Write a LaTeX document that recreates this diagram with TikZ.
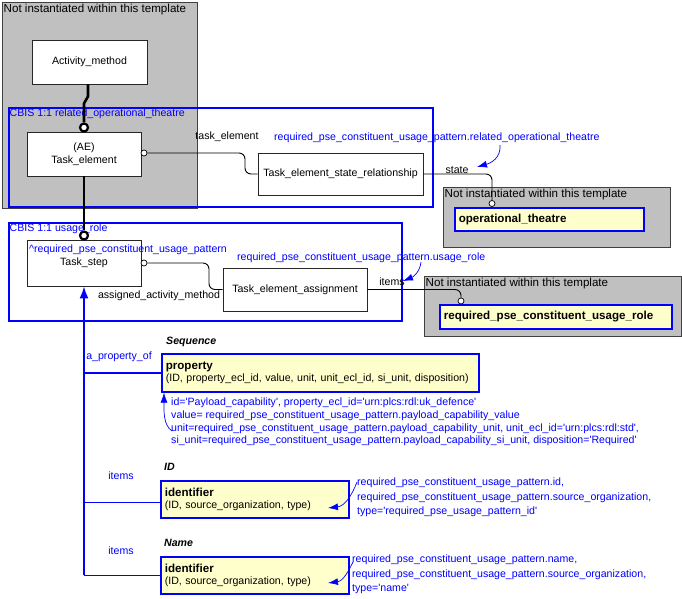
\documentclass[tikz,border=0pt]{standalone}
\usepackage{fontspec}
\setmainfont{Liberation Sans}
\usepackage{tikz}
\usetikzlibrary{calc}
\usetikzlibrary{arrows.meta}
\definecolor{tmplgray}{RGB}{192,192,192}
\definecolor{notefill}{RGB}{255,255,204}
\newcommand\enttitle[1]{{\fontsize{11.6}{12}\selectfont\bfseries #1}}
\newcommand\sq{\textquotesingle}
\tikzset{
  tmpl/.style={draw=black!75, fill=tmplgray, line width=1pt, anchor=north west, inner sep=0pt},
  tmpltext/.style={anchor=north west, inner sep=1.5pt, font=\fontsize{11.6}{13}\selectfont},
  cbis/.style={draw=blue, line width=1.6pt, anchor=north west, inner sep=0pt},
  cbistext/.style={anchor=north west, inner sep=1.5pt, text=blue},
  entity/.style={draw=black!85, fill=white, line width=0.9pt, align=center},
  note/.style={draw=blue, fill=notefill, line width=1.6pt, align=left, anchor=north west, inner xsep=4pt, inner ysep=0pt},
  ring/.style={circle, draw, fill=white, line width=2.2pt, minimum size=8pt, inner sep=0pt},
  port/.style={circle, draw, fill=white, line width=0.7pt, minimum size=6pt, inner sep=0pt},
  heavy/.style={line width=2.6pt},
  conn/.style={line width=0.9pt, rounded corners=6pt},
  attr/.style={inner sep=1pt},
  bluetext/.style={text=blue, inner sep=1pt},
  seqtext/.style={anchor=west, inner sep=1pt, font=\fontsize{10.6}{12}\selectfont\bfseries\itshape},
  bluearr/.style={draw=blue, line width=0.7pt, -{Latex[length=10pt,width=7pt]}},
  bluelink/.style={draw=blue, line width=1.6pt},
}

\begin{document}
\begin{tikzpicture}[x=1pt, y=-1pt, font=\fontsize{10.6}{12.7}\selectfont]
  \useasboundingbox (0,0) rectangle (682,599);

  \node [tmpl, minimum width=195, minimum height=206] (tmplA) at (2,2) {};
  \node [tmpltext] (tmplAtxt) at (tmplA.north west) {Not instantiated within this template};
  \node [tmpl, minimum width=227, minimum height=60] (tmplB) at (443,187) {};
  \node [tmpltext] (tmplBtxt) at (tmplB.north west) {Not instantiated within this template};
  \node [tmpl, minimum width=257, minimum height=60] (tmplC) at (424,276) {};
  \node [tmpltext] (tmplCtxt) at (tmplC.north west) {Not instantiated within this template};

  \node [cbis, minimum width=424, minimum height=99] (cbisA) at (8,107) {};
  \node [cbistext] (cbisAtxt) at (cbisA.north west) {CBIS 1:1 related\_operational\_theatre};
  \node [cbis, minimum width=393, minimum height=98] (cbisB) at (8,222) {};
  \node [cbistext] (cbisBtxt) at (cbisB.north west) {CBIS 1:1 usage\_role};

  \node [entity, minimum width=115, minimum height=44] (actm) at (89.5,62) {Activity\_method};
  \node [entity, minimum width=114, minimum height=44] (tel) at (84,154) {(AE)\\Task\_element};
  \node [entity, minimum width=165, minimum height=42] (tser) at (340.5,174) {Task\_element\_state\_relationship};
  \node [entity, minimum width=114, minimum height=46] (tstep) at (84,263) {Task\_step};
  \node [entity, minimum width=144, minimum height=43] (tea) at (295,289.5) {Task\_element\_assignment};
  \node [bluetext, anchor=west] (tstepref) at (28,250) {\textasciicircum required\_pse\_constituent\_usage\_pattern};

  \node [note, text width=181, minimum height=23] (opth) at (454,207) {\enttitle{operational\_theatre}};
  \node [note, text width=224, minimum height=24] (rpcur) at (439,304) {\enttitle{required\_pse\_constituent\_usage\_role}};

  % heavy links
  \node [ring] (ringA) at (84,127.5) {};
  \node [ring] (ringB) at (84,235.5) {};
  \draw [heavy] ([xshift=-1.5pt]actm.south) -- ++(0,12) -- ++(-4,7) -- (ringA);
  \draw [heavy] (tel.south) -- (ringB);

  \node [port] (pA) at (144,153) {};
  \node [port] (pB) at (492,203.5) {};
  \node [port] (pC) at (144,263) {};
  \node [port] (pD) at (461,301) {};
  \draw [conn] (pA) -- ++(101,0) |- (tser.west);
  \draw [conn] (tser.east) -| (pB);
  \draw [conn] (pC) -- ++(65,0) |- (tea.west);
  \draw [conn] (tea.east) -| (pD);

  \node [attr] (lblTaskEl) at (227,137) {task\_element};
  \node [attr] (lblState) at (457,170) {state};
  \node [attr] (lblAssigned) at (159,296) {assigned\_activity\_method};
  \node [attr] (lblItems) at (392,282) {items};

  \node [bluetext, anchor=west] (annTheatre) at (273,138) {required\_pse\_constituent\_usage\_pattern.related\_operational\_theatre};
  \coordinate (srcTheatre) at (500,145);
  \coordinate (tipTheatre) at (477,167);
  \draw [bluearr] (srcTheatre) .. controls (501,158) and (491,163) .. (tipTheatre);

  \node [bluetext, anchor=west] (annRole) at (236,258) {required\_pse\_constituent\_usage\_pattern.usage\_role};
  \coordinate (srcRole) at (421,262);
  \coordinate (tipRole) at (403,281);
  \draw [bluearr] (srcRole) .. controls (420,272) and (413,277) .. (tipRole);

  % property and identifiers
  \node [seqtext] (seqProp) at (165,342) {Sequence};
  \node [note, text width=309, minimum height=38] (prop) at (161,353) {\enttitle{property}\\(ID, property\_ecl\_id, value, unit, unit\_ecl\_id, si\_unit, disposition)};
  \node [seqtext] (seqIdA) at (163,467) {ID};
  \node [note, text width=180, minimum height=37] (idA) at (160,480) {\enttitle{identifier}\\(ID, source\_organization, type)};
  \node [seqtext] (seqIdB) at (163,543) {Name};
  \node [note, text width=180, minimum height=37] (idB) at (160,556) {\enttitle{identifier}\\(ID, source\_organization, type)};

  \coordinate (trunkEnd) at (idB.west -| tstep.south);
  \coordinate (idAin) at ($(idA.west)+(0,3)$);
  \draw [bluelink, -{Latex[length=12pt,width=9pt]}] (trunkEnd) -- (tstep.south);
  \draw [bluelink] (prop.west -| trunkEnd) -- (prop.west);
  \draw [bluelink] (idAin -| trunkEnd) -- (idAin);
  \draw [bluelink] (trunkEnd) -- (idB.west);
  \node [bluetext] (lblPropOf) at (119,357) {a\_property\_of};
  \node [bluetext] (lblItemsA) at (121,476) {items};
  \node [bluetext] (lblItemsB) at (121,551) {items};

  \node [bluetext, anchor=north west, align=left] (annProp) at (170,397) {id=\sq Payload\_capability\sq, property\_ecl\_id=\sq urn:plcs:rdl:uk\_defence\sq\\value= required\_pse\_constituent\_usage\_pattern.payload\_capability\_value\\unit=required\_pse\_constituent\_usage\_pattern.payload\_capability\_unit, unit\_ecl\_id=\sq urn:plcs:rdl:std\sq,\\si\_unit=required\_pse\_constituent\_usage\_pattern.payload\_capability\_si\_unit, disposition=\sq Required\sq};
  \coordinate (srcProp) at (172,431);
  \draw [bluearr] (srcProp) .. controls (163,425) and (164,410) .. ([xshift=3pt]prop.south west);

  \node [bluetext, anchor=north west, align=left, font=\fontsize{10.6}{14.5}\selectfont] (annIdA) at (356,477) {required\_pse\_constituent\_usage\_pattern.id,\\required\_pse\_constituent\_usage\_pattern.source\_organization,\\type=\sq required\_pse\_usage\_pattern\_id\sq};
  \coordinate (srcIdA) at (357,482);
  \coordinate (tipIdA) at (328,508);
  \draw [bluearr] (srcIdA) .. controls (352,495) and (345,506) .. (tipIdA);

  \node [bluetext, anchor=north west, align=left, font=\fontsize{10.6}{14.5}\selectfont] (annIdB) at (351,554) {required\_pse\_constituent\_usage\_pattern.name,\\required\_pse\_constituent\_usage\_pattern.source\_organization,\\type=\sq name\sq};
  \coordinate (srcIdB) at (353,562);
  \coordinate (tipIdB) at (328,583);
  \draw [bluearr] (srcIdB) .. controls (348,572) and (343,581) .. (tipIdB);
\end{tikzpicture}
\end{document}
